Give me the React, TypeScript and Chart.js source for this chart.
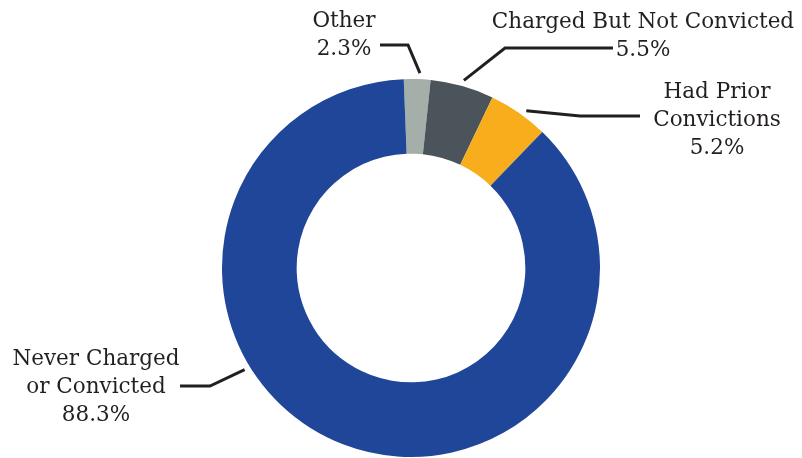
import React, { useEffect, useRef } from "react";
import { Chart, registerables } from "chart.js";

Chart.register(...registerables);

const categories = ["Other", "Charged But Not Convicted", "Had Prior Convictions", "Never Charged or Convicted"];
const values = [2.3, 5.5, 5.2, 88.3];
const colors = ["#A4AFA9", "#4A545A", "#F8AE1C", "#1F4698"];
const labelLines = [["Other", "2.3%"], ["Charged But Not Convicted", "5.5%"], ["Had Prior", "Convictions", "5.2%"], ["Never Charged", "or Convicted", "88.3%"]];

// layout of annotations (positions only)
const annot = [
  { t: 0.59, elbow: [408, 45], end: [380, 45], text: [344, 27] },
  { t: 0.5, elbow: [505, 48], end: [613, 48], text: [643, 28] },
  { t: 0.58, elbow: [580, 116], end: [640, 116], text: [717, 98] },
  { t: 0.62, elbow: [210, 386], end: [180, 386], text: [96, 365] },
];

const leaderPlugin = {
  id: "leaders",
  afterDraw(chart: any) {
    const ctx = chart.ctx;
    const meta = chart.getDatasetMeta(0);
    ctx.save();
    meta.data.forEach((arc: any, i: number) => {
      const a = annot[i];
      const { x, y, startAngle, endAngle, outerRadius } = arc.getProps(["x", "y", "startAngle", "endAngle", "outerRadius"], true);
      const ang = startAngle + (endAngle - startAngle) * a.t;
      const r = outerRadius + 6;
      const sx = x + Math.cos(ang) * r;
      const sy = y + Math.sin(ang) * r;
      ctx.strokeStyle = "#231F20";
      ctx.lineWidth = 3;
      ctx.lineJoin = "miter";
      ctx.beginPath();
      ctx.moveTo(sx, sy);
      ctx.lineTo(a.elbow[0], a.elbow[1]);
      ctx.lineTo(a.end[0], a.end[1]);
      ctx.stroke();
      ctx.fillStyle = "#231F20";
      ctx.font = "21.5px 'DejaVu Serif'";
      ctx.textAlign = "center";
      ctx.textBaseline = "alphabetic";
      labelLines[i].forEach((ln, j) => {
        ctx.fillText(ln, a.text[0], a.text[1] + j * 27.8);
      });
    });
    ctx.restore();
  },
};

export default function App() {
  const ref = useRef<HTMLCanvasElement>(null);
  useEffect(() => {
    document.body.style.margin = "0";
    const chart = new Chart(ref.current!, {
      type: "doughnut",
      data: {
        labels: categories,
        datasets: [{ data: values, backgroundColor: colors, borderWidth: 0 }],
      },
      options: {
        responsive: false,
        animation: false,
        rotation: -2.2,
        cutout: "60.5%",
        layout: { padding: { top: 79, bottom: 1, left: 222, right: 202 } },
        plugins: { legend: { display: false }, tooltip: { enabled: false } },
      },
      plugins: [leaderPlugin],
    });
    return () => chart.destroy();
  }, []);
  return <canvas ref={ref} width={802} height={458} style={{ display: "block" }} />;
}
